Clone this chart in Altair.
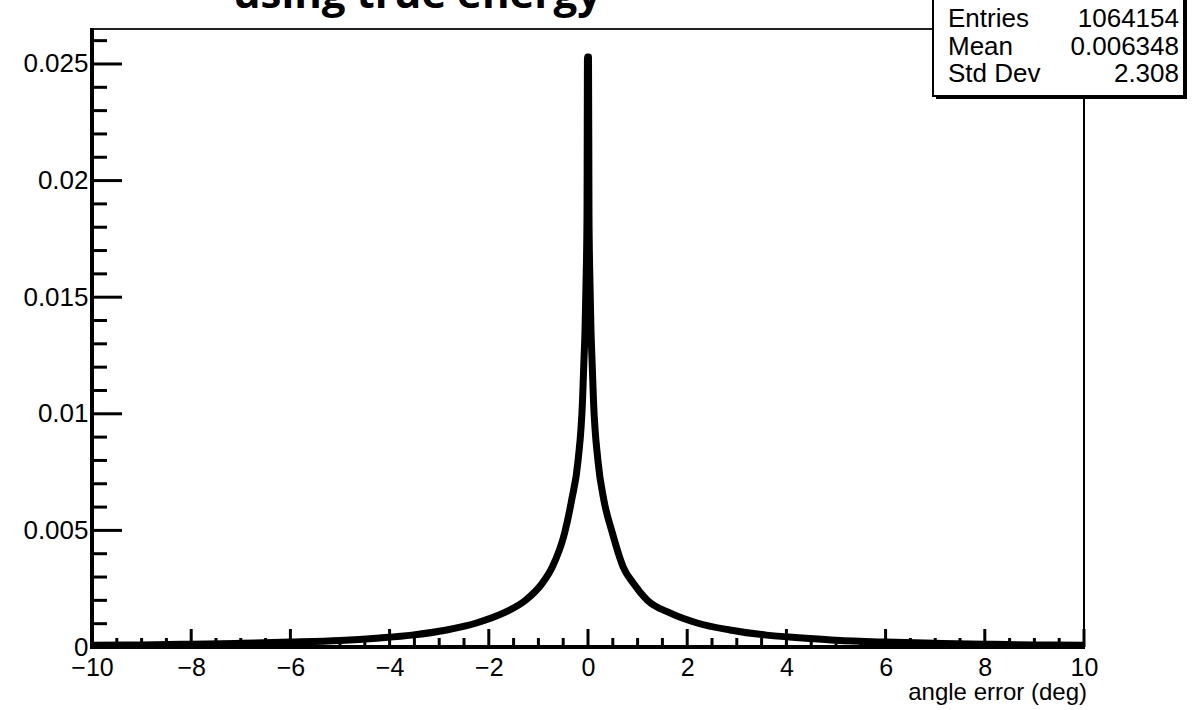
import altair as alt
import pandas as pd

# ---- data ----
angle_err = [-10, -9, -8, -7, -6, -5, -4.2, -3.55, -2.85, -2.25, -1.7, -1.25, -0.92, -0.72,
             -0.47, -0.33, -0.20, -0.11, -0.085, -0.06, -0.04, -0.02, -0.01, 0.01, 0.02, 0.04,
             0.06, 0.085, 0.11, 0.20, 0.32, 0.49, 0.71, 0.91, 1.19, 1.65, 2.2, 2.86, 3.6, 4.33,
             5, 6, 7, 8, 9, 10]
density = [0.00007, 0.00009, 0.00012, 0.00016, 0.00021, 0.00028, 0.00039, 0.00051, 0.00073,
           0.00103, 0.00146, 0.00202, 0.00274, 0.00343, 0.0049, 0.0063, 0.0080, 0.0106,
           0.0121, 0.0136, 0.0156, 0.0185, 0.0253, 0.0253, 0.0185, 0.0156, 0.0136, 0.0121,
           0.0106, 0.0080, 0.0063, 0.0049, 0.00343, 0.00274, 0.00202, 0.00146, 0.00103,
           0.00073, 0.00051, 0.00039, 0.00029, 0.00021, 0.00016, 0.00012, 0.00009, 0.00007]

x_major = [-10, -8, -6, -4, -2, 0, 2, 4, 6, 8, 10]
x_minor = [v / 2 for v in range(-20, 21) if v % 4 != 0]
y_major = [0, 0.005, 0.01, 0.015, 0.02, 0.025]
y_minor = [v / 1000 for v in range(0, 27) if v % 5 != 0]

stat_labels = ["Entries", "Mean", "Std Dev"]
stat_values = ["1064154", "0.006348", "2.308"]

title_text = "using true energy"
x_title = "angle error (deg)"

W, H = 992, 618
FONT = "Liberation Sans"

xscale = alt.Scale(domain=[-10, 10], nice=False, zero=False)
yscale = alt.Scale(domain=[0, 0.0265], nice=False, zero=True)

xaxis = alt.Axis(values=x_major, domain=False, ticks=False, grid=False, title=None,
                 labelFont=FONT, labelFontSize=25, labelColor="black",
                 labelPadding=8, labelFlush=False, labelOverlap=False)
yaxis = alt.Axis(values=y_major, format="~g", domain=False, ticks=False, grid=False,
                 title=None, labelFont=FONT, labelFontSize=26, labelColor="black",
                 labelPadding=4, labelOverlap=False)

hist_df = pd.DataFrame({"x": angle_err, "y": density})

hist = alt.Chart(hist_df).mark_line(color="black", strokeWidth=7, interpolate="monotone",
                                    strokeJoin="round", clip=True).encode(
    x=alt.X("x:Q", scale=xscale, axis=xaxis),
    y=alt.Y("y:Q", scale=yscale, axis=yaxis),
)

def xticks(vals, length):
    return alt.Chart(pd.DataFrame({"x": vals})).mark_rule(color="black", strokeWidth=3).encode(
        x=alt.X("x:Q", scale=xscale, axis=xaxis),
        y=alt.value(H), y2=alt.value(H - length))

def yticks(vals, length):
    return alt.Chart(pd.DataFrame({"y": vals})).mark_rule(color="black", strokeWidth=3).encode(
        y=alt.Y("y:Q", scale=yscale, axis=yaxis),
        x=alt.value(0), x2=alt.value(length))

frame_top = alt.Chart().mark_rule(color="#222", strokeWidth=2).encode(
    x=alt.value(0), x2=alt.value(W), y=alt.value(0))
frame_right = alt.Chart().mark_rule(color="black", strokeWidth=2).encode(
    x=alt.value(W), y=alt.value(0), y2=alt.value(H))
frame_left = alt.Chart().mark_rule(color="black", strokeWidth=4).encode(
    x=alt.value(0), y=alt.value(-1), y2=alt.value(H + 2))
frame_bottom = alt.Chart().mark_rule(color="black", strokeWidth=4).encode(
    x=alt.value(-2), x2=alt.value(W + 1), y=alt.value(H))

title = alt.Chart().mark_text(font="Open Sans", fontWeight="bold", fontSize=42,
                              align="center", baseline="alphabetic", color="black").encode(
    x=alt.value(325), y=alt.value(-21), text=alt.value(title_text))

xt = alt.Chart().mark_text(font=FONT, fontSize=24, align="right", baseline="alphabetic",
                           color="black").encode(
    x=alt.value(995), y=alt.value(671), text=alt.value(x_title))

box_shadow = alt.Chart().mark_rect(color="black").encode(
    x=alt.value(844), x2=alt.value(1095), y=alt.value(-40), y2=alt.value(70))
box = alt.Chart().mark_rect(fill="white", stroke="black", strokeWidth=2).encode(
    x=alt.value(841), x2=alt.value(1092), y=alt.value(-40), y2=alt.value(67))

stat_layers = []
baselines = [-2, 26, 53]
for lab, val, b in zip(stat_labels, stat_values, baselines):
    stat_layers.append(alt.Chart().mark_text(font=FONT, fontSize=26, align="left",
                                             baseline="alphabetic", color="black").encode(
        x=alt.value(856), y=alt.value(b), text=alt.value(lab)))
    stat_layers.append(alt.Chart().mark_text(font=FONT, fontSize=26, align="right",
                                             baseline="alphabetic", color="black").encode(
        x=alt.value(1087), y=alt.value(b), text=alt.value(val)))

chart = alt.layer(
    hist,
    xticks(x_major, 18), xticks(x_minor, 9),
    yticks(y_major, 30), yticks(y_minor, 15),
    frame_top, frame_right, frame_left, frame_bottom,
    title, xt, box_shadow, box, *stat_layers,
).properties(
    width=W, height=H,
    autosize=alt.AutoSizeParams(type="none"),
    padding={"left": 92, "top": 29, "right": 112, "bottom": 63},
).configure_view(stroke=None).configure(background="white")

chart.save("out.html", embed_options={"renderer": "svg", "actions": False})
